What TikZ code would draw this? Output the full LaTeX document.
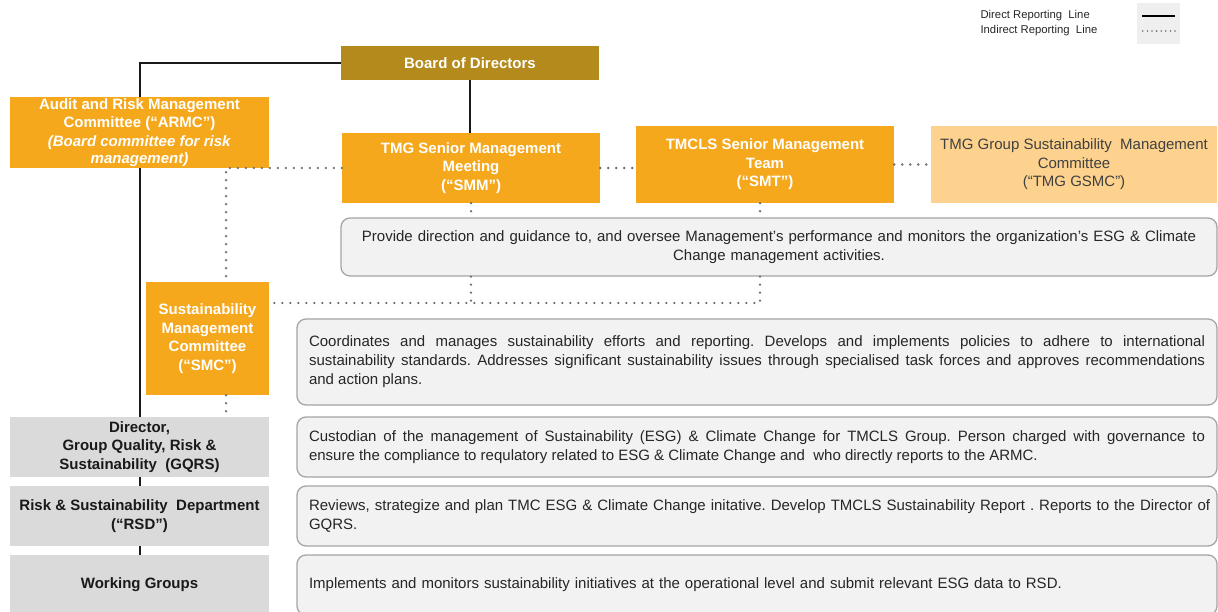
\documentclass[tikz,border=0pt]{standalone}
\usepackage{fontspec}
\setmainfont{Liberation Sans}
\definecolor{tmgorange}{HTML}{F6A81C}
\definecolor{boardgold}{HTML}{B38A1B}
\definecolor{gsmcorange}{HTML}{FDD28E}
\definecolor{levelgray}{HTML}{DADADA}
\definecolor{descfill}{HTML}{F2F2F2}
\definecolor{descline}{HTML}{A5A5A5}
\definecolor{dotgray}{HTML}{6E6E6E}
\definecolor{legendgray}{HTML}{EFEFEF}
\tikzset{
  orgbox/.style={fill=tmgorange, text=white, align=center, inner sep=0pt,
    font=\fontsize{15}{18.5}\selectfont\bfseries},
  levelbox/.style={fill=levelgray, text=black!90, align=center, inner sep=0pt,
    font=\fontsize{15}{18.5}\selectfont\bfseries},
  descbox/.style={draw=descline, fill=descfill, line width=1.3pt, rounded corners=9pt,
    inner xsep=12pt, inner ysep=0pt, text width=896pt, text=black!85, minimum width=920pt,
    font=\fontsize{15}{19}\selectfont},
  direct/.style={line width=2pt, black!90},
  indirect/.style={line width=2.6pt, dotgray, dash pattern=on 0pt off 8pt, line cap=round},
}
\frenchspacing
\begin{document}
\begin{tikzpicture}[x=1pt, y=-1pt]
  \useasboundingbox (0,0) rectangle (1218,612);

  \node[fill=legendgray, minimum width=43pt, minimum height=41pt] (legend) at (1158.5,23.5) {};
  \node[anchor=west, font=\fontsize{11.3}{14}\selectfont, text=black!85] (directlbl) at (977,16) {Direct Reporting\ \ Line};
  \node[anchor=west, font=\fontsize{11.3}{14}\selectfont, text=black!85] (indirectlbl) at (977,31) {Indirect Reporting\ \ Line};
  \draw[line width=2pt] ([xshift=5pt]legend.west |- directlbl) -- ([xshift=-5pt]legend.east |- directlbl);
  \draw[line width=1.8pt, dotgray, dash pattern=on 0pt off 4.6pt, line cap=round] ([xshift=6pt]legend.west |- indirectlbl) -- ([xshift=-5pt]legend.east |- indirectlbl);

  \node[orgbox, fill=boardgold, minimum width=258pt, minimum height=34pt] (board) at (470,63) {Board of Directors};
  \node[orgbox, minimum width=259pt, minimum height=71pt] (armc) at (139.5,132.5)
    {Audit and Risk Management\\ Committee (“ARMC”)\\ \textit{(Board committee for risk}\\[-1.5pt] \textit{management)}};
  \node[orgbox, minimum width=258pt, minimum height=70pt] (smm) at (471,168) {TMG Senior Management\\ Meeting\\ (“SMM”)};
  \node[orgbox, minimum width=258pt, minimum height=77pt] (smt) at (765,164.5) {TMCLS Senior Management\\ Team\\ (“SMT”)};
  \node[orgbox, fill=gsmcorange, text=black!75, font=\fontsize{15}{18.5}\selectfont, minimum width=286pt, minimum height=77pt] (gsmc) at (1074,164.5)
    {TMG Group Sustainability\ \ Management\\ Committee\\ (“TMG GSMC”)};
  \node[descbox, align=center, text width=852pt, minimum width=876pt, minimum height=58pt] (guide) at (779,247)
    {Provide direction and guidance to, and oversee Management’s performance and monitors the organization’s ESG \& Climate\\ Change management activities.};
  \node[orgbox, minimum width=123pt, minimum height=113pt] (smc) at (207.5,338.5) {Sustainability\\ Management\\ Committee\\ (“SMC”)};
  \node[descbox, align=justify, minimum height=86pt] (coord) at (757,362)
    {Coordinates and manages sustainability efforts and reporting. Develops and implements policies to adhere to international\linebreak
     sustainability standards. Addresses significant sustainability issues through specialised task forces and approves recommendations\linebreak
     and action plans.};
  \node[levelbox, minimum width=259pt, minimum height=60pt] (gqrs) at (139.5,447) {Director,\\ Group Quality, Risk \&\\ Sustainability\ \ (GQRS)};
  \node[descbox, align=justify, minimum height=60pt] (custodian) at (757,447)
    {Custodian of the management of Sustainability (ESG) \& Climate Change for TMCLS Group. Person charged with governance to\linebreak
     ensure the compliance to requlatory related to ESG \& Climate Change and\ \ who directly reports to the ARMC.};
  \node[levelbox, minimum width=259pt, minimum height=60pt] (rsd) at (139.5,516) {Risk \& Sustainability\ \ Department\\ (“RSD”)};
  \node[descbox, align=left, minimum height=60pt] (review) at (757,516)
    {\makebox[896pt][l]{Reviews, strategize and plan TMC ESG \& Climate Change initative. Develop TMCLS Sustainability Report . Reports to the Director of}\\ GQRS.};
  \node[levelbox, minimum width=259pt, minimum height=60pt] (wg) at (139.5,585) {Working Groups};
  \node[descbox, align=left, minimum height=60pt] (implement) at (757,585)
    {Implements and monitors sustainability initiatives at the operational level and submit relevant ESG data to RSD.};

  \coordinate (armctap) at (226,168);
  \coordinate (junction) at (760,303);

  \draw[direct] (board.west) -| (armc.north);
  \draw[direct] (board.south) -- (board.south |- smm.north);
  \draw[direct] (armc.south) -- (gqrs.north);
  \draw[direct] (gqrs.south) -- (rsd.north);
  \draw[direct] (rsd.south) -- (wg.north);

  \draw[indirect] (smm.west) -- (armctap) -- (armctap |- smc.north);
  \draw[indirect] (smc.south -| armctap) -- (armctap |- gqrs.north);
  \draw[indirect] (smm.east) -- (smt.west |- smm.east);
  \draw[indirect] (smt.east) -- (gsmc.west);
  \draw[indirect] (smm.south) -- (smm.south |- guide.north);
  \draw[indirect] (junction |- smt.south) -- (junction |- guide.north);
  \draw[indirect] (guide.south -| smm.south) -- (smm.south |- junction);
  \draw[indirect] (guide.south -| junction) -- (junction) -- (junction -| smc.east);
\end{tikzpicture}
\end{document}
